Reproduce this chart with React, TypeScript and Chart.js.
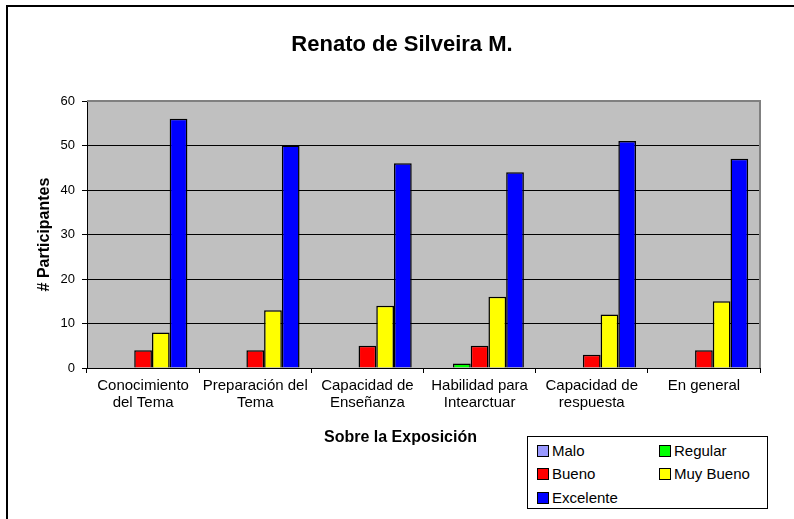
import React, { useEffect, useRef } from 'react';
import { Chart, registerables } from 'chart.js';

Chart.register(...registerables);

const FONT = 'Liberation Sans, Arial, Helvetica, sans-serif';

const chartTitle = 'Renato de Silveira M.';
const xAxisTitle = 'Sobre la Exposición';
const yAxisTitle = '# Participantes';

const categories: string[][] = [
  ['Conocimiento', 'del Tema'],
  ['Preparación del', 'Tema'],
  ['Capacidad de', 'Enseñanza'],
  ['Habilidad para', 'Intearctuar'],
  ['Capacidad de', 'respuesta'],
  ['En general'],
];

const seriesNames = ['Malo', 'Regular', 'Bueno', 'Muy Bueno', 'Excelente'];
const malo = [0, 0, 0, 0, 0, 0];
const regular = [0, 0, 0, 1, 0, 0];
const bueno = [4, 4, 5, 5, 3, 4];
const muyBueno = [8, 13, 14, 16, 12, 15];
const excelente = [56, 50, 46, 44, 51, 47];
const seriesColors = ['#9999FF', '#00FF00', '#FF0000', '#FFFF00', '#0000FF'];

const yTicks = [0, 10, 20, 30, 40, 50, 60];

// legend layout: [column, row] per series
const legendSlots = [
  [0, 0],
  [1, 0],
  [0, 1],
  [1, 1],
  [0, 2],
];

export default function App() {
  const canvasRef = useRef<HTMLCanvasElement | null>(null);

  useEffect(() => {
    const canvas = canvasRef.current;
    if (!canvas) return;
    Chart.defaults.font.family = FONT;

    const seriesValues = [malo, regular, bueno, muyBueno, excelente];

    const decorPlugin = {
      id: 'decor',
      beforeDraw(chart: any) {
        const { ctx, chartArea } = chart;
        ctx.save();
        ctx.fillStyle = '#C0C0C0';
        ctx.fillRect(chartArea.left, chartArea.top, chartArea.right - chartArea.left, chartArea.bottom - chartArea.top);
        ctx.restore();
      },
      afterDraw(chart: any) {
        const { ctx, chartArea } = chart;
        ctx.save();
        ctx.strokeStyle = '#808080';
        ctx.lineWidth = 2;
        ctx.beginPath();
        ctx.moveTo(chartArea.left, chartArea.top);
        ctx.lineTo(chartArea.right, chartArea.top);
        ctx.lineTo(chartArea.right, chartArea.bottom);
        ctx.stroke();
        ctx.fillStyle = '#000';
        ctx.textAlign = 'center';
        ctx.textBaseline = 'alphabetic';
        ctx.font = `bold 22px ${FONT}`;
        ctx.fillText(chartTitle, 402, 51);
        ctx.font = `bold 16px ${FONT}`;
        ctx.fillText(xAxisTitle, 400.5, 442);
        ctx.restore();
      },
    };

    const chart = new Chart(canvas, {
      type: 'bar',
      data: {
        labels: categories,
        datasets: seriesNames.map((name, i) => ({
          label: name,
          data: seriesValues[i],
          backgroundColor: seriesColors[i],
          borderColor: '#000000',
          borderWidth: 1.5,
          barPercentage: 1,
          categoryPercentage: 0.79,
        })),
      },
      options: {
        animation: false,
        responsive: false,
        maintainAspectRatio: false,
        layout: { padding: { left: 0, top: 101, right: 34, bottom: 91 } },
        plugins: {
          legend: { display: false },
          title: { display: false },
          tooltip: { enabled: false },
        },
        scales: {
          x: {
            grid: {
              display: true,
              drawOnChartArea: false,
              drawTicks: true,
              tickLength: 5,
              color: '#000000',
              offset: true,
            },
            border: { display: true, color: '#000000', width: 1 },
            ticks: {
              color: '#000000',
              font: { family: FONT, size: 15, lineHeight: 1.17 },
              padding: 4,
              maxRotation: 0,
              minRotation: 0,
              autoSkip: false,
            },
            afterFit: (s: any) => {
              s.height = 60;
            },
          },
          y: {
            min: 0,
            max: 60,
            afterBuildTicks: (s: any) => {
              s.ticks = yTicks.map((v) => ({ value: v }));
            },
            ticks: {
              color: '#000000',
              font: { family: FONT, size: 13 },
              padding: 7,
            },
            grid: {
              color: (c: any) => (c.tick && c.tick.value === 60 ? '#808080' : '#000000'),
              tickColor: '#000000',
              tickLength: 5,
              lineWidth: 1,
            },
            border: { display: true, color: '#000000', width: 1 },
            title: {
              display: true,
              text: yAxisTitle,
              color: '#000000',
              font: { family: FONT, size: 16, weight: 'bold' },
              padding: { top: 35, bottom: 0 },
            },
            afterFit: (s: any) => {
              s.width = 87;
            },
          },
        },
      },
      plugins: [decorPlugin],
    } as any);

    return () => {
      chart.destroy();
    };
  }, []);

  return (
    <div
      style={{
        position: 'fixed',
        left: 0,
        top: 0,
        width: 794,
        height: 519,
        background: '#ffffff',
        overflow: 'hidden',
        fontFamily: FONT,
      }}
    >
      <canvas ref={canvasRef} width={794} height={519} style={{ width: 794, height: 519, display: 'block' }} />
      <div
        style={{
          position: 'absolute',
          left: 6,
          top: 5,
          width: 820,
          height: 540,
          borderLeft: '2px solid #000',
          borderTop: '2px solid #000',
          pointerEvents: 'none',
        }}
      />
      <div
        style={{
          position: 'absolute',
          left: 527,
          top: 436,
          width: 241,
          height: 73,
          boxSizing: 'border-box',
          border: '1px solid #000',
          background: '#fff',
        }}
      >
        {seriesNames.map((name, i) => {
          const [col, row] = legendSlots[i];
          const cx = col === 0 ? 9 : 131;
          const cy = [14, 37, 61][row];
          return (
            <div key={name}>
              <div
                style={{
                  position: 'absolute',
                  left: cx,
                  top: cy - 6,
                  width: 10,
                  height: 10,
                  border: '1px solid #000',
                  background: seriesColors[i],
                }}
              />
              <div
                style={{
                  position: 'absolute',
                  left: cx + 15,
                  top: cy - 10,
                  fontSize: 15,
                  lineHeight: '20px',
                  color: '#000',
                  whiteSpace: 'nowrap',
                }}
              >
                {name}
              </div>
            </div>
          );
        })}
      </div>
    </div>
  );
}
